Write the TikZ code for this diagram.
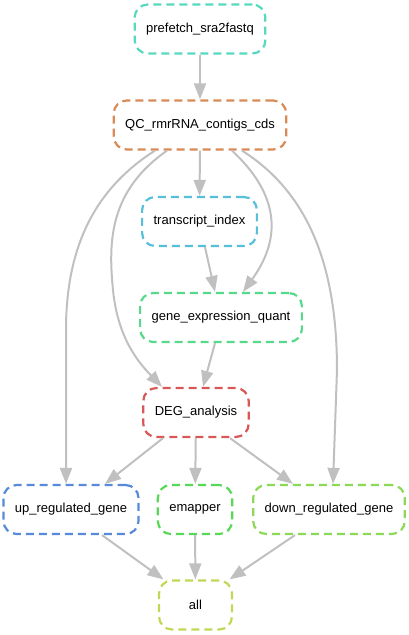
\documentclass[tikz,border=0pt]{standalone}
\usepackage{fontspec}
\setmainfont{Liberation Sans}
\usetikzlibrary{calc}
\usetikzlibrary{arrows.meta}

\definecolor{edgegray}{RGB}{192,192,192}
\definecolor{cPrefetch}{RGB}{87,217,191}
\definecolor{cQC}{RGB}{217,139,87}
\definecolor{cIndex}{RGB}{87,191,217}
\definecolor{cQuant}{RGB}{87,217,139}
\definecolor{cDEG}{RGB}{217,87,87}
\definecolor{cUp}{RGB}{87,139,217}
\definecolor{cEmapper}{RGB}{87,217,87}
\definecolor{cDown}{RGB}{139,217,87}
\definecolor{cAll}{RGB}{191,217,87}

\begin{document}
\begin{tikzpicture}[x=1pt,y=-1pt,
	rule/.style={draw, dash pattern=on 8pt off 5pt, line width=2.2pt, rounded corners=13pt,
		minimum height=49pt, minimum width=73pt, inner xsep=11.5pt, font=\fontsize{13}{15}\selectfont},
	edge/.style={draw=edgegray, line width=2pt, -{Triangle[length=16pt,width=12pt]}}]
			
			\useasboundingbox (0,0) rectangle (408,635);
			
			\node[rule, draw=cPrefetch] (prefetch) at (200,29) {prefetch\_sra2fastq};
			\node[rule, draw=cQC] (qc) at (200,125) {QC\_rmrRNA\_contigs\_cds};
			\node[rule, draw=cIndex] (index) at (199.5,221.5) {transcript\_index};
			\node[rule, draw=cQuant] (quant) at (221,317.5) {gene\_expression\_quant};
			\node[rule, draw=cDEG] (deg) at (196,412.5) {DEG\_analysis};
			\node[rule, draw=cUp] (up) at (71,509.5) {up\_regulated\_gene};
			\node[rule, draw=cEmapper] (emapper) at (195,509.5) {emapper};
			\node[rule, draw=cDown] (down) at (329,509.5) {down\_regulated\_gene};
			\node[rule, draw=cAll] (all) at (195.5,605) {all};
			
			\coordinate (bendUp) at (66,330);
			\coordinate (bendDEG) at (113,290);
			\coordinate (bendDown) at (337,370);
			
			\draw[edge] (prefetch) -- (qc);
			\draw[edge] (qc) -- (index);
			\draw[edge] ([xshift=5.5pt]index.south) -- ([xshift=-6pt]quant.north);
			\draw[edge] ([xshift=-6pt]quant.south) -- ([xshift=7pt]deg.north);
			\draw[edge] ([xshift=-45pt]qc.south) .. controls +(-55,35) and +(0,-90) .. (bendUp) -- ([xshift=-5pt]up.north);
			\draw[edge] ([xshift=-33pt]qc.south) .. controls +(-57,40) and +(-5,-50) .. (bendDEG)
				.. controls +(5,50) and +(-22,-23) .. ([xshift=-34pt]deg.north);
			\draw[edge] ([xshift=32pt]qc.south) .. controls +(43,40) and +(42,-58) .. ([xshift=22pt]quant.north);
			\draw[edge] ([xshift=42pt]qc.south) .. controls +(63,40) and +(0,-110) .. (bendDown) -- ([xshift=4pt]down.north);
			\draw[edge] ([xshift=-33pt]deg.south) -- ([xshift=34pt]up.north);
			\draw[edge] (deg) -- (emapper);
			\draw[edge] ([xshift=34pt]deg.south) -- ([xshift=-36pt]down.north);
			\draw[edge] ([xshift=31pt]up.south) -- ([xshift=-32pt]all.north);
			\draw[edge] (emapper) -- (all);
			\draw[edge] ([xshift=-34pt]down.south) -- ([xshift=34pt]all.north);
			
\end{tikzpicture}
\end{document}
